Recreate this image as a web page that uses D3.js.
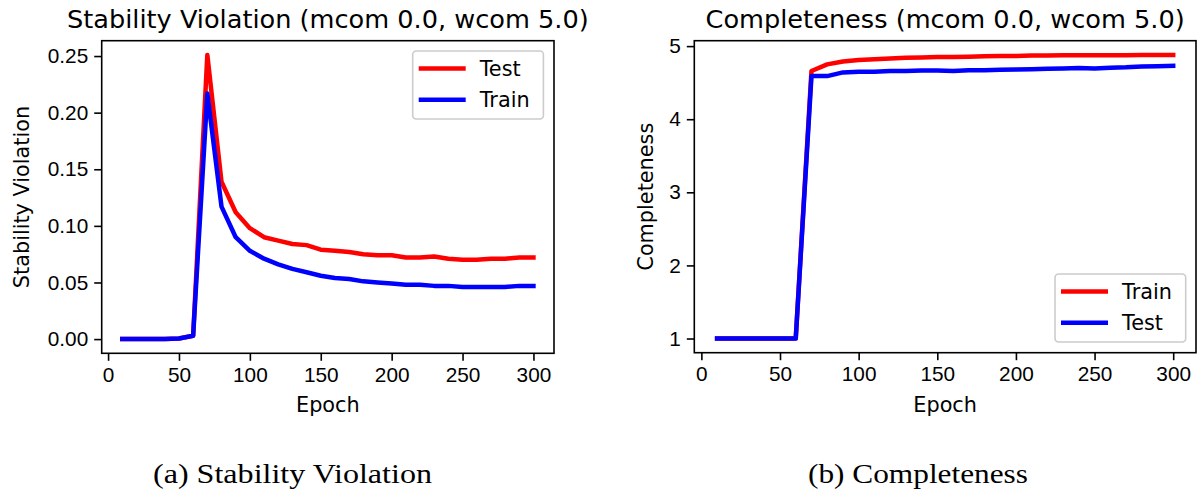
<!doctype html>
<html>
<head>
<meta charset="utf-8">
<script type='text/javascript' src='https://d3js.org/d3.v7.min.js'></script>
<style>
body { margin: 0; background: #fff; }
text { fill: #000; }
</style>
</head>
<body>
<script>
var width = 1198, height = 490;

// epochs 10..300
var epochs = [10,20,30,40,50,60,70,80,90,100,110,120,130,140,150,160,170,180,190,200,210,220,230,240,250,260,270,280,290,300];

// stability violation
var svTest  = [0,0,0,0,0.0005,0.003,0.251,0.139,0.112,0.098,0.090,0.087,0.084,0.083,0.079,0.078,0.077,0.075,0.074,0.074,0.072,0.072,0.073,0.071,0.070,0.070,0.071,0.071,0.072,0.072];
var svTrain = [0,0,0,0,0.0005,0.003,0.217,0.117,0.090,0.078,0.071,0.066,0.062,0.059,0.056,0.054,0.053,0.051,0.050,0.049,0.048,0.048,0.047,0.047,0.046,0.046,0.046,0.046,0.047,0.047];

// completeness
var cmTrain = [1,1,1,1,1,1,4.66,4.75,4.79,4.81,4.82,4.83,4.84,4.845,4.85,4.85,4.855,4.86,4.865,4.865,4.87,4.87,4.875,4.875,4.875,4.875,4.875,4.88,4.88,4.88];
var cmTest  = [1,1,1,1,1,1,4.59,4.59,4.64,4.65,4.65,4.66,4.66,4.665,4.665,4.66,4.67,4.67,4.675,4.68,4.685,4.69,4.695,4.70,4.695,4.705,4.71,4.72,4.725,4.73];

var xTicks = [0,50,100,150,200,250,300];
var svTicks = [0,0.05,0.10,0.15,0.20,0.25];
var cmTicks = [1,2,3,4,5];

var svg = d3.select('body').append('svg').attr('width',width).attr('height',height)
  .style('font-family',"'DejaVu Sans', sans-serif");

// matplotlib-like 5% padding
function padded(vals) {
  var e = d3.extent(vals), p = (e[1]-e[0])*0.05;
  return [e[0]-p, e[1]+p];
}

function panel(o) {
  var x = d3.scaleLinear().domain(padded(epochs)).range([o.left, o.right]);
  var y = d3.scaleLinear().domain(padded(o.series[0].values.concat(o.series[1].values))).range([o.bottom, o.top]);
  var g = svg.append('g');

  var xa = g.append('g').attr('transform','translate(0,'+o.bottom+')')
    .call(d3.axisBottom(x).tickValues(xTicks).tickFormat(d3.format('d')).tickSize(7.5).tickPadding(6));
  var ya = g.append('g').attr('transform','translate('+o.left+',0)')
    .call(d3.axisLeft(y).tickValues(o.ticks).tickFormat(o.fmt).tickSize(7.5).tickPadding(6));
  [xa, ya].forEach(function(a) {
    a.select('.domain').remove();
    a.selectAll('.tick line').attr('stroke','#000').attr('stroke-width',1.6);
    a.selectAll('.tick text').attr('font-size',20.8).attr('font-family',null).attr('fill','#000');
  });

  var line = d3.line().x(function(d,i){return x(epochs[i]);}).y(function(d){return y(d);});
  o.series.forEach(function(s) {
    g.append('path').datum(s.values).attr('d',line)
      .attr('fill','none').attr('stroke',s.color).attr('stroke-width',4.5)
      .attr('stroke-linejoin','round').attr('stroke-linecap','square');
  });

  g.append('rect').attr('x',o.left).attr('y',o.top).attr('width',o.right-o.left).attr('height',o.bottom-o.top)
    .attr('fill','none').attr('stroke','#000').attr('stroke-width',1.6);

  g.append('text').attr('x',(o.left+o.right)/2).attr('y',o.top-13).attr('text-anchor','middle')
    .attr('font-size',25.6).text(o.title);
  g.append('text').attr('x',(o.left+o.right)/2).attr('y',412).attr('text-anchor','middle')
    .attr('font-size',20.8).text('Epoch');
  g.append('text').attr('transform','translate('+o.ylabX+','+((o.top+o.bottom)/2)+') rotate(-90)')
    .attr('text-anchor','middle').attr('font-size',20.8).text(o.ylabel);

  // legend
  var lg = g.append('g').attr('transform','translate('+o.leg[0]+','+o.leg[1]+')');
  lg.append('rect').attr('width',130.7).attr('height',68).attr('rx',3.5)
    .attr('fill','#fff').attr('fill-opacity',0.8).attr('stroke','#cccccc').attr('stroke-width',1.6);
  o.series.forEach(function(s,i) {
    var yy = 17.5 + i*31.3;
    lg.append('line').attr('x1',6).attr('x2',53).attr('y1',yy).attr('y2',yy)
      .attr('stroke',s.color).attr('stroke-width',4.5);
    lg.append('text').attr('x',67).attr('y',yy).attr('dy','0.36em').attr('font-size',20.8).text(s.name);
  });

  svg.append('text').attr('x',o.capX).attr('y',483).attr('text-anchor','middle')
    .style('font-family',"'Liberation Serif', serif").attr('font-size',28)
    .attr('textLength',o.capW).attr('lengthAdjust','spacingAndGlyphs').text(o.caption);
}

panel({
  left:101.7, right:554, top:40.7, bottom:353.3,
  series:[{name:'Test',color:'#ff0000',values:svTest},{name:'Train',color:'#0000ff',values:svTrain}],
  ticks:svTicks, fmt:d3.format('.2f'),
  title:'Stability Violation (mcom 0.0, wcom 5.0)', ylabel:'Stability Violation', ylabX:29,
  leg:[412.7,51], caption:'(a) Stability Violation', capX:292.5, capW:279
});
panel({
  left:694.3, right:1196, top:40.7, bottom:352.7,
  series:[{name:'Train',color:'#ff0000',values:cmTrain},{name:'Test',color:'#0000ff',values:cmTest}],
  ticks:cmTicks, fmt:d3.format('d'),
  title:'Completeness (mcom 0.0, wcom 5.0)', ylabel:'Completeness', ylabX:653,
  leg:[1055,274], caption:'(b) Completeness', capX:918, capW:220
});
</script>
</body>
</html>
